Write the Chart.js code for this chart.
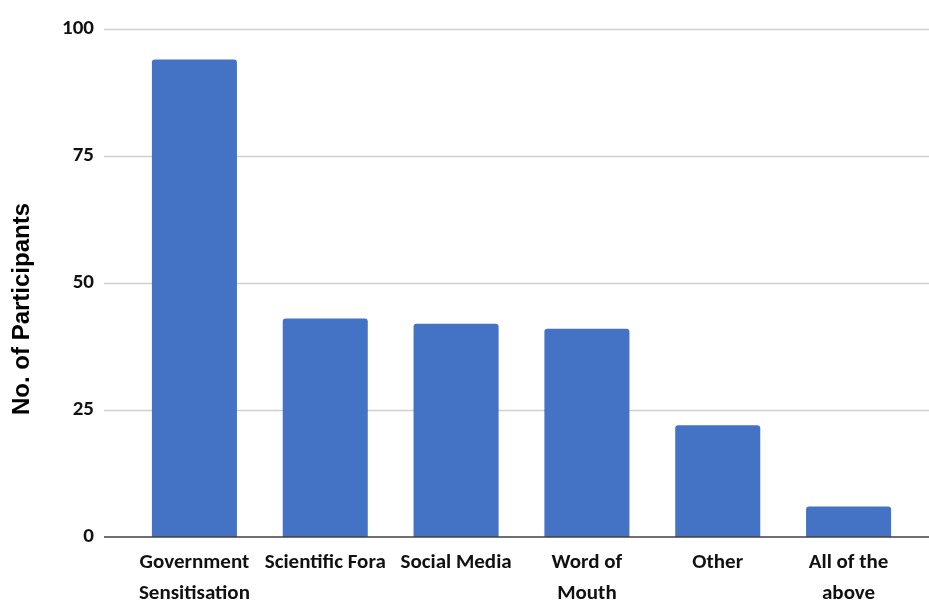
<!DOCTYPE html>
<html>
<head>
<meta charset="utf-8">
<title>No. of Participants</title>
<script src="https://cdn.jsdelivr.net/npm/chart.js@4.4.0/dist/chart.umd.min.js"></script>
<style>
  html, body { margin: 0; padding: 0; background: #fff; }
  #wrap { width: 929px; height: 602px; }
</style>
</head>
<body>
<div id="wrap"><canvas id="participantsChart" width="929" height="602"></canvas></div>
<script>
const categories = [
    ['Government', 'Sensitisation'],
    ['Scientific Fora'],
    ['Social Media'],
    ['Word of', 'Mouth'],
    ['Other'],
    ['All of the', 'above']
];
const participants = [94, 43, 42, 41, 22, 6];
const yTicks = [0, 25, 50, 75, 100];

const labelFont = { family: 'Carlito, Calibri, "Roboto Condensed", sans-serif', size: 21, weight: 'bold', lineHeight: 1.48 };

// gridlines run wider than the bars, so draw them by hand
const gridPlugin = {
    id: 'wideGrid',
    beforeDatasetsDraw(chart) {
        const c = chart.ctx;
        const y = chart.scales.y;
        c.save();
        c.strokeStyle = '#d0d0d0';
        c.lineWidth = 1.3;
        y.ticks.forEach(t => {
            if (t.value === 0) return;
            const py = Math.round(y.getPixelForValue(t.value)) + 0.5;
            c.beginPath();
            c.moveTo(104, py);
            c.lineTo(chart.width, py);
            c.stroke();
        });
        c.restore();
    },
    afterDatasetsDraw(chart) {
        const c = chart.ctx;
        const py = chart.scales.y.getPixelForValue(0);
        c.save();
        c.strokeStyle = '#404040';
        c.lineWidth = 1.6;
        c.beginPath();
        c.moveTo(104, py);
        c.lineTo(chart.width, py);
        c.stroke();

        // axis title
        c.translate(22, 309);
        c.rotate(-Math.PI / 2);
        c.fillStyle = '#000';
        c.font = 'bold 24px "Liberation Sans", Arial, sans-serif';
        c.textAlign = 'center';
        c.textBaseline = 'middle';
        c.fillText('No. of Participants', 0, 0);
        c.restore();
    }
};

const ctx = document.getElementById('participantsChart');
const myChart = new Chart(ctx, {
    type: 'bar',
    data: {
        labels: categories,
        datasets: [{
            label: 'No. of Participants',
            data: participants,
            backgroundColor: '#4472C4',
            borderWidth: 0,
            borderRadius: 3,
            categoryPercentage: 1,
            barPercentage: 0.65
        }]
    },
    options: {
        responsive: false,
        animation: false,
        layout: { padding: { top: 29, right: 15, bottom: 0, left: 0 } },
        plugins: {
            legend: { display: false },
            tooltip: { enabled: false }
        },
        scales: {
            x: {
                grid: { display: false, drawTicks: false },
                border: { display: false },
                ticks: {
                    color: '#111',
                    font: labelFont,
                    padding: 10,
                    maxRotation: 0,
                    autoSkip: false
                },
                afterFit(scale) { scale.height = 65; }
            },
            y: {
                min: 0,
                max: 100,
                afterBuildTicks(scale) { scale.ticks = yTicks.map(v => ({ value: v })); },
                grid: { display: false, drawTicks: false },
                border: { display: false },
                ticks: {
                    color: '#111',
                    font: labelFont,
                    padding: 35
                },
                afterFit(scale) {
                    scale.width = 129;
                    // tick padding would otherwise push the plot down
                    scale.paddingTop = 0;
                    scale.paddingBottom = 0;
                }
            }
        }
    },
    plugins: [gridPlugin]
});
</script>
</body>
</html>
